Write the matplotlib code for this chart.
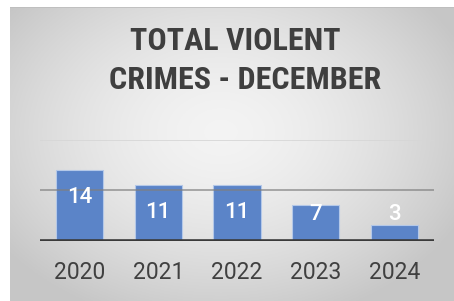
import numpy as np
import matplotlib.pyplot as plt
from matplotlib import font_manager

years = ['2020', '2021', '2022', '2023', '2024']
crimes = [14, 11, 11, 7, 3]
yticks = [0, 10, 20]

names = {f.name for f in font_manager.fontManager.ttflist}
title_font = 'Roboto'
for cand in ['Roboto Condensed', 'Liberation Sans Narrow', 'Open Sans Condensed']:
    if cand in names:
        title_font = cand
        break

fig = plt.figure(figsize=(4.54, 3.01), dpi=100)
fig.patch.set_facecolor('white')

# radial gray background of the chart box
bg = fig.add_axes([10 / 454, 0, 444 / 454, 294 / 301])
gx, gy = np.meshgrid(np.linspace(-1, 1, 300), np.linspace(-1, 1, 200))
r = np.sqrt((gx + 0.05) ** 2 + ((gy + 0.15) * 0.9) ** 2)
g = np.clip(0.955 - 0.13 * r ** 1.6, 0.78, 0.955)
bg.imshow(np.dstack([g, g, g]), aspect='auto', extent=[0, 1, 0, 1])
bg.plot([0, 1], [1, 1], color='#bdbdbd', lw=1.2)
bg.set_xlim(0, 1)
bg.set_ylim(0, 1)
bg.axis('off')

ax = fig.add_axes([40 / 454, 60.5 / 301, 394 / 454, 100.5 / 301])
ax.patch.set_alpha(0)
x = np.arange(len(years))
ax.bar(x, crimes, width=0.6, color='#5b84c8', edgecolor='#b4c8e8', linewidth=0.8, zorder=2)
ax.axhline(20, color='#d6d6d6', lw=1.2, zorder=1)
ax.axhline(10, color='#7f7f7f', lw=1.2, alpha=0.75, zorder=3)
ax.axhline(0, color='#3a3a3a', lw=2.6, zorder=4)

for xi, v in zip(x, crimes):
    ax.text(xi, max(v - 5.5, 5.1), str(v), ha='center', va='center', color='white',
            fontsize=16, family='Roboto', fontweight='medium', zorder=5)

ax.set_xlim(-0.5, len(years) - 0.5)
ax.set_ylim(0, yticks[-1])
ax.set_yticks([])
ax.set_xticks(x)
ax.set_xticklabels(years, fontsize=16.5, color='#404040', family='Roboto')
ax.tick_params(axis='x', length=0, pad=15)
for s in ax.spines.values():
    s.set_visible(False)

fig.text(235 / 454, 1 - 41 / 301, 'TOTAL VIOLENT', ha='center', va='center',
         fontsize=23, fontweight='bold', color='#3f3f3f', family=title_font)
fig.text(245 / 454, 1 - 80 / 301, 'CRIMES - DECEMBER', ha='center', va='center',
         fontsize=23, fontweight='bold', color='#3f3f3f', family=title_font)

fig.savefig('out.png', dpi=100)
